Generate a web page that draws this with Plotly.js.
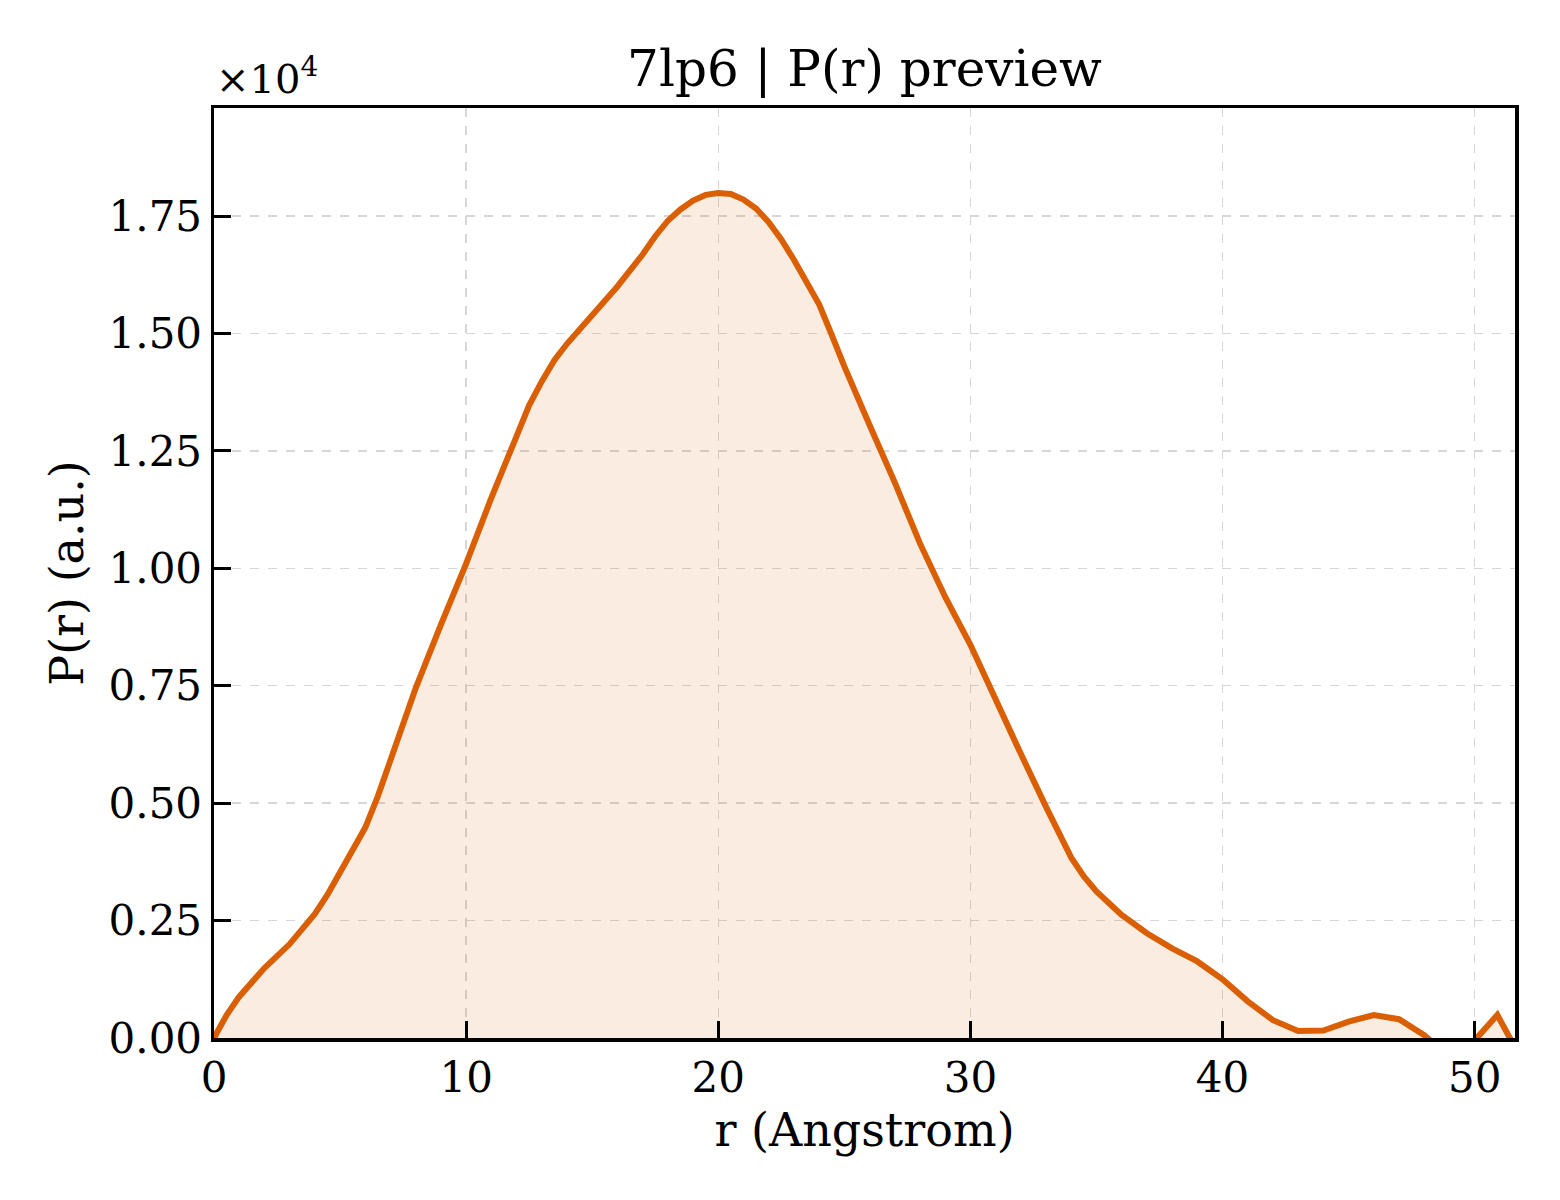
<!DOCTYPE html>
<html>
<head>
<meta charset="utf-8">
<script src="https://cdn.plot.ly/plotly-3.0.1.min.js"></script>
<style>
  body { margin: 0; background: #fff; }
  #myDiv { width: 1560px; height: 1200px; }
</style>
</head>
<body>
<div id="myDiv"></div>
<script>
// r in Angstrom, P(r) in units of 1e4
var rValues = [0, 0.5, 1, 1.5, 2, 3, 4, 4.5, 5, 5.5, 6, 6.5, 7, 8, 9, 10, 11, 12, 12.5, 13, 13.5, 14, 15, 16, 17,
  17.5, 18, 18.5, 19, 19.5, 20, 20.5, 21, 21.5, 22, 22.5, 23, 23.5, 24, 24.5, 25, 26, 27, 28, 29, 30, 31, 32,
  33, 33.5, 34, 34.5, 35, 35.5, 36, 37, 38, 39, 40,
  41, 42, 43, 44, 45, 46, 47, 48, 49, 50, 50.9, 51.6];
var prValues = [0, 0.049, 0.088, 0.120, 0.149, 0.200, 0.264, 0.305, 0.354, 0.397, 0.448, 0.515, 0.590,
  0.745, 0.880, 1.010, 1.150, 1.285, 1.347, 1.398, 1.443, 1.478, 1.540, 1.600, 1.668,
  1.707, 1.740, 1.764, 1.783, 1.795, 1.799, 1.797, 1.785, 1.766, 1.737, 1.700, 1.657,
  1.612, 1.562, 1.497, 1.430, 1.305, 1.183, 1.053, 0.939, 0.837, 0.718, 0.605,
  0.492, 0.437, 0.384, 0.344, 0.312, 0.287, 0.262, 0.223, 0.191, 0.163, 0.125,
  0.078, 0.038, 0.015, 0.016, 0.035, 0.049, 0.040, 0.006, -0.040, -0.005, 0.049, -0.020];
var xTicks = [0, 10, 20, 30, 40, 50];
var yTicks = [0, 0.25, 0.5, 0.75, 1.0, 1.25, 1.5, 1.75];

var pr = {
  x: rValues,
  y: prValues,
  mode: 'lines',
  name: 'P(r)',
  line: { color: '#d95f02', width: 6 },
  fill: 'tozeroy',
  fillcolor: 'rgba(217,95,2,0.12)',
  hoverinfo: 'skip'
};

var serif = 'DejaVu Serif, serif';

var layout = {
  width: 1560,
  height: 1200,
  paper_bgcolor: '#fff',
  plot_bgcolor: '#fff',
  showlegend: false,
  margin: { l: 214, r: 45, t: 108, b: 162 },
  font: { family: serif, color: '#000', size: 42 },
  title: {
    text: '7lp6 | P(r) preview',
    font: { family: serif, size: 50, color: '#000' },
    xref: 'paper',
    x: 0.5,
    xanchor: 'center',
    y: 1 - 68 / 1200,
    yanchor: 'middle'
  },
  xaxis: {
    range: [0, 51.6],
    tickvals: xTicks,
    ticks: 'inside',
    ticklen: 17,
    tickwidth: 3,
    tickcolor: '#000',
    showline: true,
    linecolor: '#000',
    linewidth: 3.5,
    mirror: true,
    showgrid: true,
    gridcolor: '#d6d6d6',
    gridwidth: 1.5,
    griddash: 'dash',
    zeroline: false,
    ticklabelstandoff: 0,
    tickfont: { family: serif, size: 42 },
    title: {
      text: 'r (Angstrom)',
      font: { family: serif, size: 46 },
      standoff: 14
    }
  },
  yaxis: {
    range: [0, 1.98],
    tickvals: yTicks,
    tickformat: '.2f',
    ticks: 'inside',
    ticklen: 17,
    tickwidth: 3,
    tickcolor: '#000',
    showline: true,
    linecolor: '#000',
    linewidth: 3.5,
    mirror: true,
    showgrid: true,
    gridcolor: '#d6d6d6',
    gridwidth: 1.5,
    griddash: 'dash',
    zeroline: false,
    ticklabelstandoff: 0,
    tickfont: { family: serif, size: 42 },
    title: {
      text: 'P(r) (a.u.)',
      font: { family: serif, size: 46 },
      standoff: 11
    }
  },
  annotations: [{
    text: '×10<sup>4</sup>',
    xref: 'paper', yref: 'paper',
    x: 0, y: 1,
    xanchor: 'left', yanchor: 'bottom',
    yshift: 4,
    showarrow: false,
    font: { family: serif, size: 40, color: '#000' }
  }]
};

Plotly.newPlot('myDiv', [pr], layout, { displayModeBar: false, staticPlot: true });
</script>
</body>
</html>
